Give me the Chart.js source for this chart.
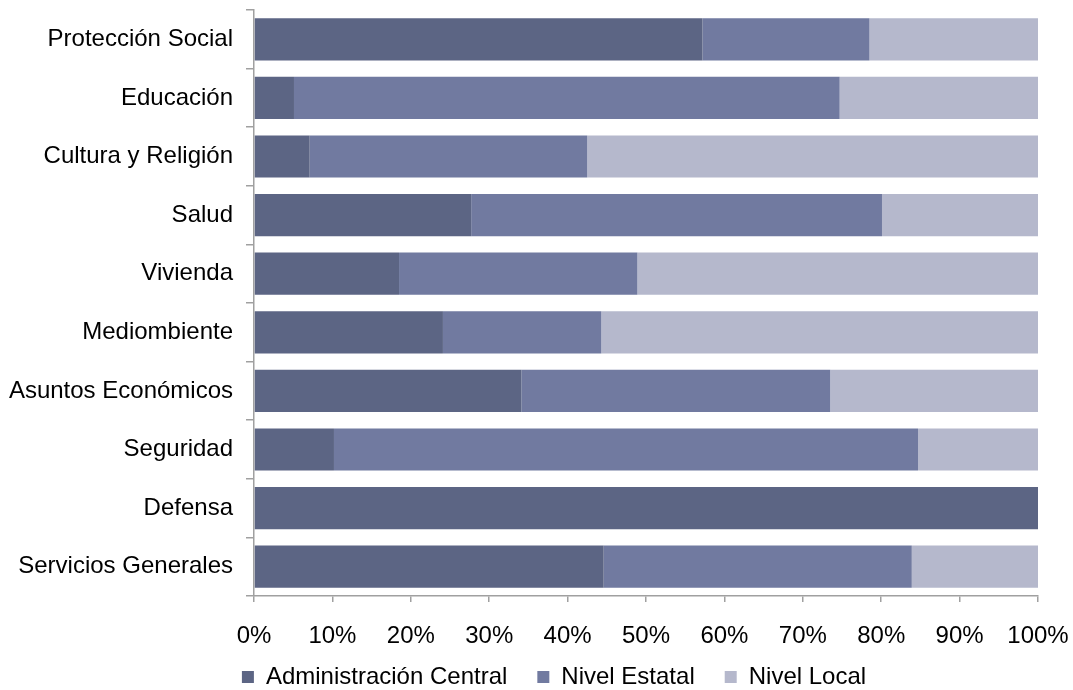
<!DOCTYPE html>
<html>
<head>
<meta charset="utf-8">
<script src="https://cdn.jsdelivr.net/npm/chart.js@4/dist/chart.umd.min.js"></script>
<style>
  html, body { margin: 0; padding: 0; background: #fff; }
  #wrap { width: 1073px; height: 690px; }
</style>
</head>
<body>
<div id="wrap"><canvas id="myChart"></canvas></div>
<script>
// categories, top to bottom
const categories = ["Protección Social", "Educación", "Cultura y Religión", "Salud", "Vivienda",
  "Mediombiente", "Asuntos Económicos", "Seguridad", "Defensa", "Servicios Generales"];

// shares in percent
const central = [57.2, 5.1, 7.1, 27.7, 18.5, 24.1, 34.1, 10.2, 100, 44.6];
const estatal = [21.3, 69.6, 35.4, 52.4, 30.4, 20.2, 39.4, 74.5, 0, 39.3];
const local = [21.5, 25.3, 57.5, 19.9, 51.1, 55.7, 26.5, 15.3, 0, 16.1];

const seriesNames = ["Administración Central", "Nivel Estatal", "Nivel Local"];
const tickValues = [0, 10, 20, 30, 40, 50, 60, 70, 80, 90, 100];

const colors = ["#5c6584", "#717aa0", "#b5b8cc"];
const axisColor = "#a0a0a0";
const font = { family: "'Liberation Sans', Arial, sans-serif", size: 24 };

Chart.defaults.font.family = font.family;
Chart.defaults.color = "#000";

// nudge the legend row: a bit to the right and up, like the original
const legendShift = {
  id: "legendShift",
  afterLayout: function (chart) {
    const lg = chart.legend;
    if (!lg) return;
    lg.left += 35;
    lg.right += 35;
    lg.top -= 13;
  }
};

new Chart(document.getElementById("myChart"), {
  type: "bar",
  data: {
    labels: categories,
    datasets: [central, estatal, local].map(function (vals, i) {
      return {
        label: seriesNames[i],
        data: vals,
        backgroundColor: colors[i],
        borderWidth: 0,
        categoryPercentage: 1,
        barPercentage: 0.72
      };
    })
  },
  plugins: [legendShift],
  options: {
    indexAxis: "y",
    responsive: true,
    maintainAspectRatio: false,
    animation: false,
    layout: { padding: { top: 10, right: 35, bottom: 0, left: 0 } },
    plugins: {
      tooltip: { enabled: false },
      legend: {
        position: "bottom",
        maxHeight: 42,
        labels: {
          font: font,
          boxWidth: 12,
          boxHeight: 12,
          padding: 30,
          color: "#000"
        }
      }
    },
    scales: {
      x: {
        stacked: true,
        min: 0,
        max: 100,
        afterBuildTicks: function (scale) {
          scale.ticks = tickValues.map(function (v) { return { value: v }; });
        },
        afterFit: function (scale) {
          scale.height = 52;
          scale.paddingLeft = 0;
          scale.paddingRight = 0;
        },
        border: { color: axisColor, width: 1.5 },
        grid: { drawOnChartArea: false, color: axisColor, tickLength: 6, lineWidth: 1.5 },
        ticks: {
          font: font,
          color: "#000",
          padding: 20,
          maxRotation: 0,
          callback: function (v) { return v + "%"; }
        }
      },
      y: {
        stacked: true,
        afterFit: function (scale) {
          scale.width = 254;
          scale.paddingTop = 0;
          scale.paddingBottom = 0;
        },
        border: { color: axisColor, width: 1.5 },
        grid: { drawOnChartArea: false, color: axisColor, tickLength: 8, lineWidth: 1.5 },
        ticks: { font: font, color: "#000", padding: 13 }
      }
    }
  }
});
</script>
</body>
</html>
